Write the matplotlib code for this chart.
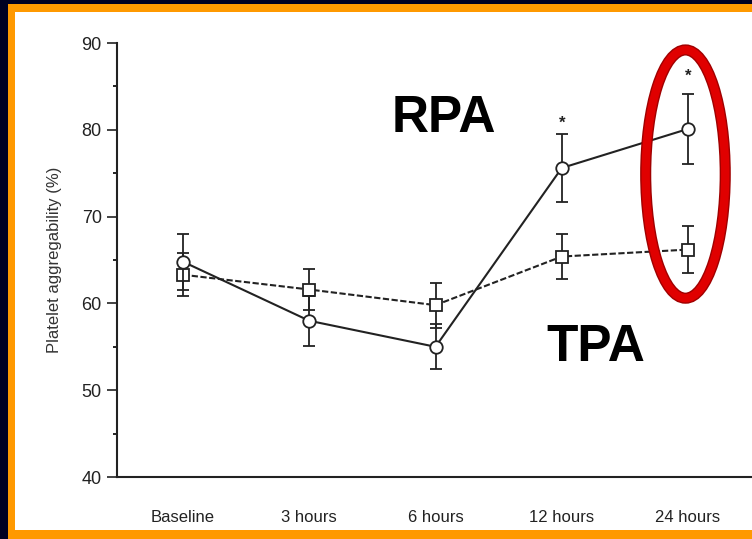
import matplotlib
matplotlib.use("Agg")
import matplotlib.pyplot as plt
import matplotlib.patches as patches
import matplotlib.patheffects as pe
from matplotlib.ticker import MultipleLocator

categories = ["Baseline", "3 hours", "6 hours", "12 hours", "24 hours"]
rpa_mean = [64.8, 58.0, 55.0, 75.6, 80.1]
rpa_err = [3.2, 2.9, 2.6, 3.9, 4.0]
tpa_mean = [63.3, 61.6, 59.8, 65.4, 66.2]
tpa_err = [2.5, 2.4, 2.6, 2.6, 2.7]
star_idx = [3, 4]
star_y = [80.8, 86.2]

plt.rcParams['font.family'] = ['Liberation Sans', 'DejaVu Sans']

fig = plt.figure(figsize=(7.52, 5.39), dpi=100)
fig.patch.set_facecolor('#000022')
# orange frame and white panel
fig.add_artist(patches.Rectangle((8/752, 0), 1, 535/539, transform=fig.transFigure,
                                 facecolor='#FF9900', edgecolor='none', zorder=0))
fig.add_artist(patches.Rectangle((15/752, 9/539), 1, 518/539, transform=fig.transFigure,
                                 facecolor='white', edgecolor='none', zorder=0))

ax = fig.add_axes([117/752, 62/539, 1 - 117/752, (477-43)/539])
ax.set_facecolor('none')
x = list(range(len(categories)))

ax.errorbar(x, tpa_mean, yerr=tpa_err, fmt='s', color='#222222', mfc='white', mec='#222222',
            ms=8, mew=1.3, elinewidth=1.3, capsize=4, capthick=1.3, ls=(0, (3, 1.2)), lw=1.5, zorder=3)
ax.errorbar(x, rpa_mean, yerr=rpa_err, fmt='o', color='#222222', mfc='white', mec='#222222',
            ms=9, mew=1.3, elinewidth=1.3, capsize=4, capthick=1.3, ls='-', lw=1.5, zorder=4)

for i, yy in zip(star_idx, star_y):
    ax.text(x[i], yy, '*', ha='center', va='center', fontsize=12, fontweight='bold', color='#222222')

ax.set_xlim(-0.523, 4.507)
ax.set_ylim(40, 90)
ax.yaxis.set_major_locator(MultipleLocator(10))
ax.yaxis.set_minor_locator(MultipleLocator(5))
ax.set_xticks(x)
ax.set_xticklabels(categories)
ax.tick_params(axis='x', length=0, pad=24, labelsize=12, colors='#222222')
ax.tick_params(axis='y', which='major', length=7, width=1.2, pad=4, labelsize=13, colors='#222222')
ax.tick_params(axis='y', which='minor', length=3, width=1.2)
for s in ['top', 'right']:
    ax.spines[s].set_visible(False)
for s in ['left', 'bottom']:
    ax.spines[s].set_linewidth(1.5)
    ax.spines[s].set_color('#222222')
ax.set_ylabel('Platelet aggregability (%)', fontsize=12, color='#333333', labelpad=14)

ax.text(2.07, 81.3, 'RPA', ha='center', va='center', fontsize=37, fontweight='bold', color='black')
ax.text(3.27, 54.9, 'TPA', ha='center', va='center', fontsize=37, fontweight='bold', color='black')

ell = patches.Ellipse((3.98, 74.9), 0.63, 28.6, fill=False, edgecolor='#e00000', linewidth=6,
                      clip_on=False, zorder=5,
                      path_effects=[pe.Stroke(linewidth=8, foreground='#a00000'), pe.Normal()])
ax.add_patch(ell)

fig.savefig('out.png', dpi=100, facecolor=fig.get_facecolor())
